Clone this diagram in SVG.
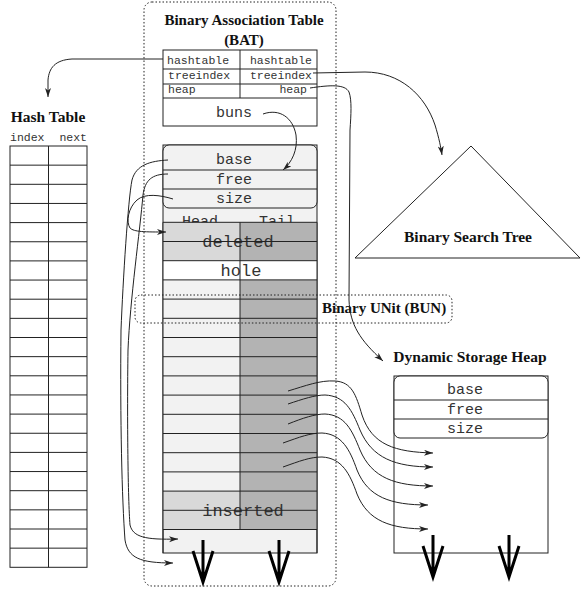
<svg xmlns="http://www.w3.org/2000/svg" width="582" height="589" viewBox="0 0 582 589">
<style>
.ttl{font-family:"Liberation Serif","Times New Roman",serif;font-weight:bold;font-size:15.5px;fill:#111}
.mono{font-family:"Liberation Mono","Courier New",monospace;fill:#333}
.s{font-size:11.5px}
.m{font-size:15px}
.l{font-size:17px}
.box{fill:none;stroke:#222;stroke-width:1}
.ln{stroke:#222;stroke-width:1;fill:none}
.dot{fill:none;stroke:#222;stroke-width:1;stroke-dasharray:1.5 2}
.con{fill:none;stroke:#222;stroke-width:1}
.big{fill:none;stroke:#000;stroke-width:3}
</style>
<defs>
<marker id="ah" markerUnits="userSpaceOnUse" markerWidth="10" markerHeight="7" refX="9" refY="3" orient="auto">
<path d="M0,0 L9,3 L0,6 L2.5,3 z" fill="#222"/>
</marker>
</defs>
<rect width="582" height="589" fill="#fff"/>

<g id="bat">
<rect class="dot" x="144" y="2" width="192" height="584" rx="8"/>
<text class="ttl" x="244" y="25" text-anchor="middle" style="font-size:15px">Binary Association Table</text>
<text class="ttl" x="244" y="45" text-anchor="middle" style="font-size:15px">(BAT)</text>
</g>

<g id="bat-header">
<rect x="163" y="50" width="154" height="76" fill="#fff" stroke="#222"/>
<path class="ln" d="M163,69H317M163,84H317M163,98H317M240,50V98"/>
<text class="mono s" x="167" y="64">hashtable</text>
<text class="mono s" x="312" y="64" text-anchor="end">hashtable</text>
<text class="mono s" x="168" y="79">treeindex</text>
<text class="mono s" x="312" y="79" text-anchor="end">treeindex</text>
<text class="mono s" x="168" y="93">heap</text>
<text class="mono s" x="307" y="93" text-anchor="end">heap</text>
<text class="mono m" x="234" y="117" text-anchor="middle">buns</text>
</g>

<g id="bun-heap">
<rect x="163" y="145" width="154" height="408" fill="#f2f2f2" stroke="#222"/>
<rect x="163" y="145" width="154" height="63" rx="6" fill="#f2f2f2" stroke="#222"/>
<path class="ln" d="M163,170H317M163,189H317"/>
<text class="mono m" x="234" y="164" text-anchor="middle">base</text>
<text class="mono m" x="234" y="184" text-anchor="middle">free</text>
<text class="mono m" x="234" y="203" text-anchor="middle">size</text>
<text class="mono m" x="200" y="226" text-anchor="middle">Head</text>
<text class="mono m" x="277" y="226" text-anchor="middle">Tail</text>
<rect x="163" y="222.3" width="77" height="38.4" fill="#d9d9d9"/>
<rect x="240" y="222.3" width="77" height="307.2" fill="#b3b3b3"/>
<rect x="163" y="260.7" width="154" height="19.2" fill="#fff"/>
<rect x="163" y="279.9" width="77" height="211.2" fill="#f2f2f2"/>
<rect x="163" y="491.1" width="77" height="38.4" fill="#d9d9d9"/>
<text class="mono l" x="238" y="247" text-anchor="middle">deleted</text>
<text class="mono l" x="241" y="276" text-anchor="middle">hole</text>
<text class="mono l" x="243" y="516" text-anchor="middle">inserted</text>
<path class="ln" d="M163,222.3H317M163,241.5H317M163,260.7H317M163,279.9H317M163,299.1H317M163,318.3H317M163,337.5H317M163,356.7H317M163,375.9H317M163,395.1H317M163,414.3H317M163,433.5H317M163,452.7H317M163,471.9H317M163,491.1H317M163,510.3H317M163,529.5H317M240,222.3V529.5M163,222.3V553M317,222.3V553"/>
<path class="big" d="M203,540V582M193,551L203,582L213,551"/>
<path class="big" d="M279,540V582M269,551L279,582L289,551"/>
</g>

<g id="bun-label">
<rect class="dot" x="135" y="295" width="317" height="28" rx="6"/>
<text class="ttl" x="322" y="313" style="font-size:15px">Binary UNit (BUN)</text>
</g>

<g id="hash-table">
<text class="ttl" x="48" y="122" text-anchor="middle">Hash Table</text>
<text class="mono s" x="10" y="141">index</text>
<text class="mono s" x="87" y="141" text-anchor="end">next</text>
<rect x="10" y="146" width="77" height="421.3" fill="#fff" stroke="#222"/>
<path class="ln" d="M48.5,146V567.3M10,165.15H87M10,184.3H87M10,203.45H87M10,222.6H87M10,241.75H87M10,260.9H87M10,280.05H87M10,299.2H87M10,318.35H87M10,337.5H87M10,356.65H87M10,375.8H87M10,394.95H87M10,414.1H87M10,433.25H87M10,452.4H87M10,471.55H87M10,490.7H87M10,509.85H87M10,529H87M10,548.15H87"/>
</g>

<g id="bst">
<path d="M471,146L355,258H580Z" fill="#fff" stroke="#222"/>
<text class="ttl" x="468" y="242" text-anchor="middle">Binary Search Tree</text>
</g>

<g id="dsh">
<text class="ttl" x="470" y="362" text-anchor="middle">Dynamic Storage Heap</text>
<rect x="394" y="376" width="154" height="177" fill="#fff" stroke="#222"/>
<rect x="394" y="376" width="154" height="62" rx="6" fill="#fff" stroke="#222"/>
<path class="ln" d="M394,400H548M394,419H548"/>
<text class="mono m" x="465" y="394" text-anchor="middle">base</text>
<text class="mono m" x="465" y="414" text-anchor="middle">free</text>
<text class="mono m" x="465" y="433" text-anchor="middle">size</text>
<path class="big" d="M433,535V577M423,546L433,577L443,546"/>
<path class="big" d="M509,535V577M499,546L509,577L519,546"/>
</g>

<g id="connectors">
<path class="con" marker-end="url(#ah)" d="M163,59L72,59C55,60 49,68 48,80L48,97"/>
<path class="con" marker-end="url(#ah)" d="M313,73L365,72C400,72 425,95 435,125C439,138 441,148 442,155"/>
<path class="con" marker-end="url(#ah)" d="M310,88C330,85 345,84 349,92C352,100 351,115 350,130L349,300C350,325 360,340 383,361"/>
<path class="con" marker-end="url(#ah)" d="M263,114C280,108 293,118 296,135C298,150 292,162 283,170"/>
<path class="con" marker-end="url(#ah)" d="M168,160C150,161 136,165 132,180C128,200 123,280 121,330C120,420 122,500 125,540C128,558 140,563 173,563"/>
<path class="con" marker-end="url(#ah)" d="M168,174C152,174 145,180 143,195C140,230 130,300 128,350C127,420 128,500 130,525C133,537 145,540 178,539"/>
<path class="con" marker-end="url(#ah)" d="M173,199C160,195 145,193 137,200C128,208 126,222 130,228C134,232 145,232 166,232"/>
<path class="con" marker-end="url(#ah)" d="M288,391C305,386 320,380 335,381C352,382 356,395 362,415C372,445 395,452 433,453"/>
<path class="con" marker-end="url(#ah)" d="M288,404C303,399 315,395 325,395C345,396 352,410 360,430C372,458 395,467 433,467"/>
<path class="con" marker-end="url(#ah)" d="M288,424C303,418 315,414 325,414C345,415 352,430 360,450C372,478 395,486 433,486"/>
<path class="con" marker-end="url(#ah)" d="M283,443C300,437 310,433 322,433C342,434 350,450 357,470C368,497 390,505 428,505"/>
<path class="con" marker-end="url(#ah)" d="M283,467C300,461 310,457 322,457C342,458 350,474 357,494C368,521 390,529 428,529"/>
</g>
</svg>
